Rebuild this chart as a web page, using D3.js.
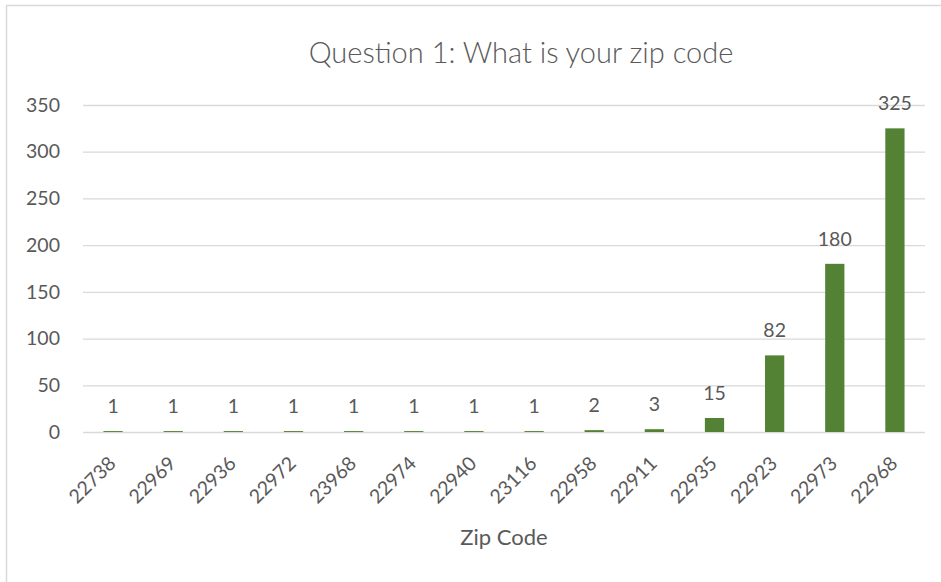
<!DOCTYPE html>
<html>
<head>
<meta charset="utf-8">
<script src="https://cdn.jsdelivr.net/npm/d3@7"></script>
<style>
  body { margin: 0; background: #fff; }
  text { font-family: Lato, "Open Sans", sans-serif; fill: #595959; }
</style>
</head>
<body>
<div id="wrapper"></div>
<script>
const zipCodes = ["22738", "22969", "22936", "22972", "23968", "22974", "22940",
  "23116", "22958", "22911", "22935", "22923", "22973", "22968"]
const counts = [1, 1, 1, 1, 1, 1, 1, 1, 2, 3, 15, 82, 180, 325]
const yTicks = [0, 50, 100, 150, 200, 250, 300, 350]

function drawChart() {
  const dimensions = {
    width: 941,
    height: 582,
    margin: { top: 105, right: 16, bottom: 150, left: 83 },
  }
  dimensions.boundedWidth = dimensions.width - dimensions.margin.left - dimensions.margin.right
  dimensions.boundedHeight = dimensions.height - dimensions.margin.top - dimensions.margin.bottom

  const data = zipCodes.map((z, i) => ({ zip: z, count: counts[i] }))

  const wrapper = d3.select("#wrapper")
    .append("svg")
      .attr("width", dimensions.width)
      .attr("height", dimensions.height)

  // chart frame (right and bottom edges fall outside the picture)
  wrapper.append("rect")
      .attr("x", 6.5)
      .attr("y", 5.5)
      .attr("width", 1100)
      .attr("height", 700)
      .attr("fill", "none")
      .attr("stroke", "#d9d9d9")
      .attr("stroke-width", 1.5)

  wrapper.append("text")
      .attr("x", 521)
      .attr("y", 63)
      .attr("text-anchor", "middle")
      .style("font-size", "29px")
      .style("font-weight", 300)
      .text("Question 1: What is your zip code")

  const bounds = wrapper.append("g")
      .attr("transform", `translate(${dimensions.margin.left}, ${dimensions.margin.top})`)

  const xScale = d3.scaleBand()
    .domain(zipCodes)
    .range([0, dimensions.boundedWidth])
    .paddingInner(0.68)
    .paddingOuter(0.34)

  const yScale = d3.scaleLinear()
    .domain([0, 350])
    .range([dimensions.boundedHeight, 0])

  // gridlines + y labels
  const yAxis = d3.axisLeft(yScale)
    .tickValues(yTicks)
    .tickSize(-dimensions.boundedWidth)
    .tickPadding(23)
  const yAxisGroup = bounds.append("g").call(yAxis)
  yAxisGroup.select(".domain").remove()
  yAxisGroup.selectAll("line").attr("stroke", "#d9d9d9").attr("stroke-width", 1.3)
  yAxisGroup.selectAll("text")
      .attr("fill", "#595959")
      .style("font-size", "19.5px")

  bounds.selectAll(".bar")
    .data(data)
    .enter().append("rect")
      .attr("class", "bar")
      .attr("x", d => xScale(d.zip))
      .attr("width", xScale.bandwidth())
      .attr("y", d => yScale(d.count))
      .attr("height", d => dimensions.boundedHeight - yScale(d.count))
      .attr("fill", "#548235")

  bounds.selectAll(".value")
    .data(data)
    .enter().append("text")
      .attr("class", "value")
      .attr("x", d => xScale(d.zip) + xScale.bandwidth() / 2)
      .attr("y", d => yScale(d.count) - 18)
      .attr("text-anchor", "middle")
      .style("font-size", "19.5px")
      .text(d => d.count)

  // x labels
  const xAxis = d3.axisBottom(xScale).tickSize(0).tickPadding(0)
  const xAxisGroup = bounds.append("g")
      .attr("transform", `translate(0, ${dimensions.boundedHeight})`)
      .call(xAxis)
  xAxisGroup.select(".domain").remove()
  xAxisGroup.selectAll("text")
      .attr("fill", "#595959")
      .style("font-size", "19.5px")
      .attr("text-anchor", "end")
      .attr("dy", "0.35em")
      .attr("transform", "translate(-1, 28) rotate(-45)")

  wrapper.append("text")
      .attr("x", dimensions.margin.left + dimensions.boundedWidth / 2)
      .attr("y", 545)
      .attr("text-anchor", "middle")
      .style("font-size", "22px")
      .text("Zip Code")
}
drawChart()
</script>
</body>
</html>
